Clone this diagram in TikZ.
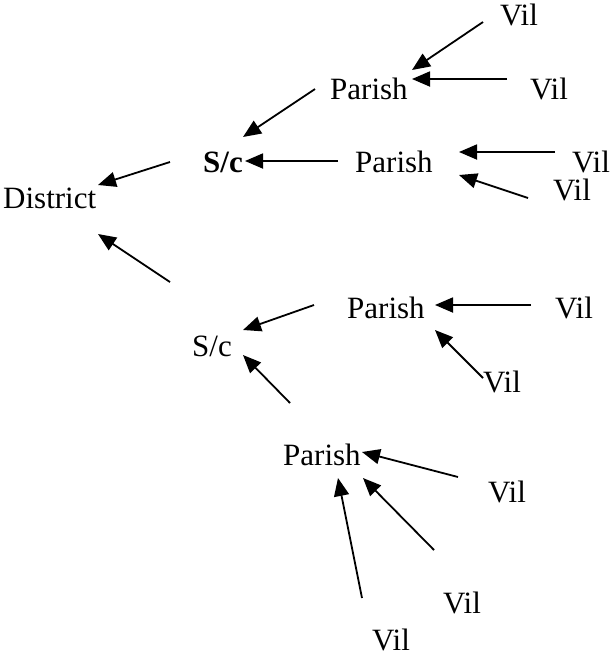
\documentclass[tikz,border=0pt]{standalone}
\usepackage{fontspec}
\setmainfont{Liberation Serif}
\usetikzlibrary{arrows.meta}

\tikzset{
  lbl/.style={anchor=base west, inner sep=0pt, font=\fontsize{31}{36}\selectfont},
  arr/.style={-{Triangle[length=18pt,width=15pt]}, line width=1.8pt},
}

\begin{document}
\begin{tikzpicture}[x=1pt, y=-1pt]
    \useasboundingbox (0,0) rectangle (611,657);

    % Names
    \node[lbl] (dist) at (3,208) {District};
    \node[lbl, font=\fontsize{31}{36}\selectfont\bfseries] (scA) at (203,172) {S/c};
    \node[lbl] (scB) at (192,356) {S/c};
    \node[lbl] (parA) at (330,99) {Parish};
    \node[lbl] (parB) at (355,172) {Parish};
    \node[lbl] (parC) at (347,318) {Parish};
    \node[lbl] (parD) at (283,465) {Parish};
    \node[lbl] (vilA) at (500,25) {Vil};
    \node[lbl] (vilB) at (530,99) {Vil};
    \node[lbl] (vilC) at (572,172) {Vil};
    \node[lbl] (vilD) at (553,200) {Vil};
    \node[lbl] (vilE) at (555,318) {Vil};
    \node[lbl] (vilF) at (483,392) {Vil};
    \node[lbl] (vilG) at (488,502) {Vil};
    \node[lbl] (vilH) at (443,613) {Vil};
    \node[lbl] (vilI) at (372,650) {Vil};

    % Arrow ends
    \coordinate (vilA-out) at (483,22);  \coordinate (parA-inA) at (412,70);
    \coordinate (vilB-out) at (507,79);  \coordinate (parA-inB) at (412,79);
    \coordinate (parA-out) at (315,89);  \coordinate (scA-inA) at (243,137);
    \coordinate (parB-out) at (338,161); \coordinate (scA-inB) at (245,161);
    \coordinate (vilC-out) at (555,152); \coordinate (parB-inA) at (459,152);
    \coordinate (vilD-out) at (528,198); \coordinate (parB-inB) at (459,175);
    \coordinate (scA-out) at (170,162);  \coordinate (dist-inA) at (98,185);
    \coordinate (scB-out) at (170,282);  \coordinate (dist-inB) at (98,234);
    \coordinate (parC-out) at (314,305); \coordinate (scB-inA) at (243,330);
    \coordinate (vilE-out) at (531,305); \coordinate (parC-inA) at (435,305);
    \coordinate (vilF-out) at (483,378); \coordinate (parC-inB) at (435,330);
    \coordinate (parD-out) at (290,403); \coordinate (scB-inB) at (243,355);
    \coordinate (vilG-out) at (458,477); \coordinate (parD-inA) at (362,452);
    \coordinate (vilH-out) at (434,550); \coordinate (parD-inB) at (363,478);
    \coordinate (vilI-out) at (362,598); \coordinate (parD-inC) at (338,478);

    % Arrows
    \draw[arr] (vilA-out) -- (parA-inA);
    \draw[arr] (vilB-out) -- (parA-inB);
    \draw[arr] (parA-out) -- (scA-inA);
    \draw[arr] (parB-out) -- (scA-inB);
    \draw[arr] (vilC-out) -- (parB-inA);
    \draw[arr] (vilD-out) -- (parB-inB);
    \draw[arr] (scA-out) -- (dist-inA);
    \draw[arr] (scB-out) -- (dist-inB);
    \draw[arr] (parC-out) -- (scB-inA);
    \draw[arr] (vilE-out) -- (parC-inA);
    \draw[arr] (vilF-out) -- (parC-inB);
    \draw[arr] (parD-out) -- (scB-inB);
    \draw[arr] (vilG-out) -- (parD-inA);
    \draw[arr] (vilH-out) -- (parD-inB);
    \draw[arr] (vilI-out) -- (parD-inC);
\end{tikzpicture}
\end{document}
